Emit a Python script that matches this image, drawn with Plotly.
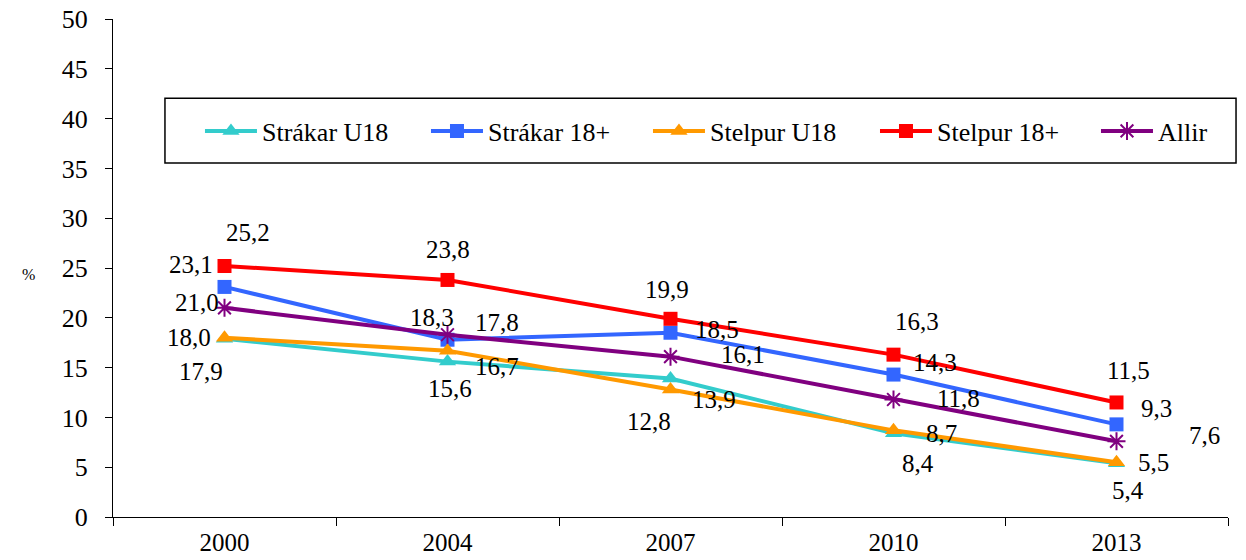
import plotly.graph_objects as go

years = ["2000", "2004", "2007", "2010", "2013"]
strakar_u18 = [17.9, 15.6, 13.9, 8.4, 5.4]
strakar_18 = [23.1, 17.8, 18.5, 14.3, 9.3]
stelpur_u18 = [18.0, 16.7, 12.8, 8.7, 5.5]
stelpur_18 = [25.2, 23.8, 19.9, 16.3, 11.5]
allir = [21.0, 18.3, 16.1, 11.8, 7.6]
y_ticks = [0, 5, 10, 15, 20, 25, 30, 35, 40, 45, 50]

# label offsets in pixels (dx right, dy up)
off_strakar_u18 = [(-24, -33), (2, -27), (43, -21), (24, -30), (11, -27)]
off_strakar_18 = [(-34, 22), (49, 17), (46, 3), (41, 12), (40, 16)]
off_stelpur_u18 = [(-36, 0), (49, -16), (-22, -32), (48, -3), (37, 0)]
off_stelpur_18 = [(23, 34), (0, 30), (-4, 29), (23, 33), (12, 32)]
off_allir = [(-28, 5), (-16, 17), (72, 2), (65, 1), (88, 6)]

# legend entry x positions (paper fraction)
legend_x = [0.078, 0.2807, 0.4798, 0.6834, 0.8816]

FONT = "Liberation Serif"

series = [
    ("Strákar U18", strakar_u18, "#33CCCC", "triangle-up", 15, off_strakar_u18),
    ("Strákar 18+", strakar_18, "#3366FF", "square", 14, off_strakar_18),
    ("Stelpur U18", stelpur_u18, "#FF9900", "triangle-up", 15, off_stelpur_u18),
    ("Stelpur 18+", stelpur_18, "#FF0000", "square", 14, off_stelpur_18),
    ("Allir", allir, "#800080", "asterisk-open", 15, off_allir),
]

fig = go.Figure()
annotations = []
legend_layout = {}
for k, (name, vals, color, sym, size, offs) in enumerate(series):
    marker = dict(symbol=sym, size=size, color=color)
    if sym == "asterisk-open":
        marker["line"] = dict(color=color, width=2)
    lg = "legend" if k == 0 else f"legend{k + 1}"
    fig.add_trace(go.Scatter(
        x=years, y=vals, name=name, mode="lines+markers",
        line=dict(color=color, width=4), marker=marker, legend=lg,
    ))
    legend_layout[lg] = dict(
        x=legend_x[k], y=0.775, xanchor="left", yanchor="middle",
        orientation="h", bgcolor="rgba(0,0,0,0)", itemwidth=52,
        font=dict(family=FONT, size=26, color="black"),
    )
    for i, (v, (dx, dy)) in enumerate(zip(vals, offs)):
        annotations.append(dict(
            x=i, y=v, xref="x", yref="y", text=f"{v:.1f}".replace(".", ","),
            showarrow=False, xshift=dx, yshift=dy,
            font=dict(family=FONT, size=25, color="black"),
        ))

annotations.append(dict(
    x=-0.0834, y=0.486, xref="paper", yref="paper", text="%", showarrow=False,
    font=dict(family=FONT, size=16, color="black"),
))

fig.update_layout(
    width=1246, height=560,
    margin=dict(l=113, r=18, t=19, b=43, autoexpand=False),
    paper_bgcolor="white", plot_bgcolor="white",
    font=dict(family=FONT, size=26, color="black"),
    showlegend=True,
    annotations=annotations,
    shapes=[dict(
        type="rect", xref="paper", yref="paper",
        x0=0.0466, x1=1.0072, y0=0.711, y1=0.841,
        line=dict(color="black", width=1.5), fillcolor="rgba(0,0,0,0)",
    )],
    xaxis=dict(
        type="category", range=[-0.5, 4.5], tickson="boundaries",
        ticks="outside", ticklen=8, tickcolor="black",
        showline=True, linecolor="black", linewidth=1, automargin=False,
        showgrid=False, zeroline=False, ticklabelstandoff=3,
        tickfont=dict(family=FONT, size=25, color="black"),
    ),
    yaxis=dict(
        range=[0, 50], tickvals=y_ticks, ticks="outside", ticklen=7,
        tickcolor="black", showline=True, linecolor="black", linewidth=1,
        automargin=False,
        showgrid=False, zeroline=False, ticklabelstandoff=12,
        tickfont=dict(family=FONT, size=26, color="black"),
    ),
    **legend_layout,
)

fig.write_html("out.html", config={"displayModeBar": False})
with open("out.html", encoding="utf-8") as f:
    html = f.read()
html = html.replace("<body>", "<body style=\"margin:0;padding:0;overflow:hidden\">", 1)
with open("out.html", "w", encoding="utf-8") as f:
    f.write(html)
